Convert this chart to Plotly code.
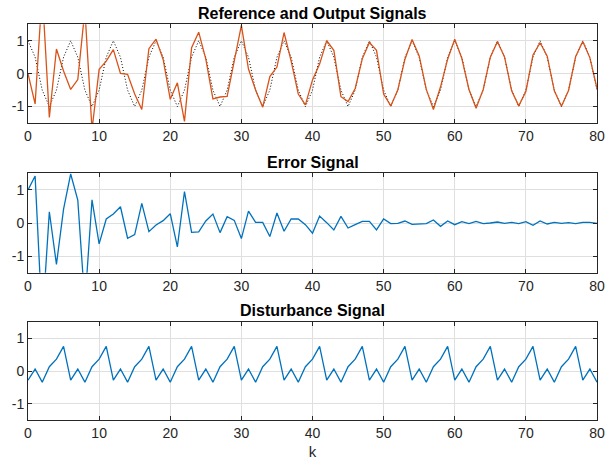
import plotly.graph_objects as go

k = list(range(81))

reference = [1, 0.5, -0.5, -1, -0.5, 0.5, 1, 0.5, -0.5, -1, -0.5, 0.5,
             1, 0.5, -0.5, -1, -0.5, 0.5, 1, 0.5, -0.5, -1, -0.5, 0.5,
             1, 0.5, -0.5, -1, -0.5, 0.5, 1, 0.5, -0.5, -1, -0.5, 0.5,
             1, 0.5, -0.5, -1, -0.5, 0.5, 1, 0.5, -0.5, -1, -0.5, 0.5,
             1, 0.5, -0.5, -1, -0.5, 0.5, 1, 0.5, -0.5, -1, -0.5, 0.5,
             1, 0.5, -0.5, -1, -0.5, 0.5, 1, 0.5, -0.5, -1, -0.5, 0.5,
             1, 0.5, -0.5, -1, -0.5, 0.5, 1, 0.5, -0.5]

output = [0, -0.92, 2.5, -1.33, 0.75, 0.08, -0.48, -0.18, 1.94, -1.7,
          0.13, 0.38, 0.73, 0.01, -0.02, -0.62, -1.09, 0.76, 1.05, 0.43,
          -0.78, -0.28, -1.45, 0.79, 1.26, 0.44, -0.77, -0.71, -0.69, 0.4,
          1.47, 0.14, -0.5, -1.02, -0.09, 0.2, 1.25, 0.38, -0.62, -0.95,
          -0.19, 0.29, 1.0, 0.71, -0.7, -0.85, -0.45, 0.45, 0.95, 0.71,
          -0.62, -0.98, -0.49, 0.44, 1.04, 0.54, -0.48, -1.09, -0.4, 0.44,
          1.05, 0.46, -0.48, -1.05, -0.48, 0.5, 0.97, 0.51, -0.52, -0.98,
          -0.54, 0.57, 0.94, 0.53, -0.52, -0.99, -0.51, 0.52, 0.98, 0.48,
          -0.45]

error = [1.0, 1.42, -3.0, 0.34, -1.25, 0.42, 1.48, 0.69, -2.44, 0.7,
         -0.63, 0.12, 0.27, 0.49, -0.46, -0.35, 0.59, -0.26, -0.06, 0.07,
         0.28, -0.72, 0.95, -0.28, -0.27, 0.06, 0.27, -0.29, 0.19, 0.08,
         -0.47, 0.36, 0.02, 0.02, -0.41, 0.3, -0.25, 0.12, 0.12, -0.05,
         -0.31, 0.21, 0.01, -0.21, 0.2, -0.15, -0.05, 0.05, 0.05, -0.21,
         0.12, -0.02, -0.01, 0.06, -0.04, -0.04, -0.02, 0.09, -0.1, 0.06,
         -0.05, 0.04, -0.02, 0.05, -0.02, 0.0, 0.03, -0.01, 0.02, -0.02,
         0.04, -0.07, 0.06, -0.03, 0.02, -0.01, 0.01, -0.02, 0.02, 0.02,
         -0.01]

disturbance = [-0.28, 0.06, -0.34, 0.13, 0.36, 0.75, -0.28, 0.06, -0.34, 0.13, 0.36, 0.75,
               -0.28, 0.06, -0.34, 0.13, 0.36, 0.75, -0.28, 0.06, -0.34, 0.13, 0.36, 0.75,
               -0.28, 0.06, -0.34, 0.13, 0.36, 0.75, -0.28, 0.06, -0.34, 0.13, 0.36, 0.75,
               -0.28, 0.06, -0.34, 0.13, 0.36, 0.75, -0.28, 0.06, -0.34, 0.13, 0.36, 0.75,
               -0.28, 0.06, -0.34, 0.13, 0.36, 0.75, -0.28, 0.06, -0.34, 0.13, 0.36, 0.75,
               -0.28, 0.06, -0.34, 0.13, 0.36, 0.75, -0.28, 0.06, -0.34, 0.13, 0.36, 0.75,
               -0.28, 0.06, -0.34, 0.13, 0.36, 0.75, -0.28, 0.06, -0.34]

titles = ["Reference and Output Signals", "Error Signal", "Disturbance Signal"]
x_ticks = [0, 10, 20, 30, 40, 50, 60, 70, 80]
y_ticks = [-1, 0, 1]
y_ticklabels = ["-1", "0", "1"]

ORANGE = "#D95319"
BLUE = "#0072BD"
AXIS = "#262626"
GRID = "#DFDFDF"
FONT = "Liberation Sans, Arial, Helvetica, sans-serif"

fig = go.Figure()
fig.add_trace(go.Scatter(x=k, y=reference, mode="lines", xaxis="x", yaxis="y",
                         line=dict(color="black", width=1, dash="1px,2px"),
                         showlegend=False))
fig.add_trace(go.Scatter(x=k, y=output, mode="lines", xaxis="x", yaxis="y",
                         line=dict(color=ORANGE, width=1.3), showlegend=False))
fig.add_trace(go.Scatter(x=k, y=error, mode="lines", xaxis="x2", yaxis="y2",
                         line=dict(color=BLUE, width=1.3), showlegend=False))
fig.add_trace(go.Scatter(x=k, y=disturbance, mode="lines", xaxis="x3", yaxis="y3",
                         line=dict(color=BLUE, width=1.3), showlegend=False))

H = 464.0
domains = [(24.3, 123.0), (173.3, 272.7), (321.7, 420.3)]
title_y = [13, 162, 310]

axis_common = dict(showline=True, linecolor=AXIS, linewidth=1, mirror="ticks",
                   ticks="inside", ticklen=4, tickcolor=AXIS, showgrid=True,
                   gridcolor=GRID, gridwidth=1, zeroline=False,
                   tickfont=dict(family=FONT, size=14, color="#262626"))

layout = dict(width=605, height=464, paper_bgcolor="white", plot_bgcolor="white",
              margin=dict(l=28, r=8, t=0, b=0), showlegend=False,
              font=dict(family=FONT, color="#262626"))
annotations = []
for i in range(3):
    sx = "" if i == 0 else str(i + 1)
    top, bot = domains[i]
    xa = dict(axis_common, domain=[0, 1], range=[0, 80], tickvals=x_ticks,
              anchor="y" + sx)
    if i == 2:
        xa["title"] = dict(text="k", font=dict(family=FONT, size=15, color="#262626"),
                           standoff=6)
    ya = dict(axis_common, domain=[1 - bot / H, 1 - top / H], range=[-1.5, 1.5],
              tickvals=y_ticks, ticktext=y_ticklabels, anchor="x" + sx)
    layout["xaxis" + sx] = xa
    layout["yaxis" + sx] = ya
    annotations.append(dict(text="<b>" + titles[i] + "</b>", xref="paper", yref="paper",
                            x=0.5, y=1 - title_y[i] / H, xanchor="center",
                            yanchor="middle", showarrow=False,
                            font=dict(family=FONT, size=16, color="black")))
layout["annotations"] = annotations
fig.update_layout(**layout)

fig.write_html("out.html")
